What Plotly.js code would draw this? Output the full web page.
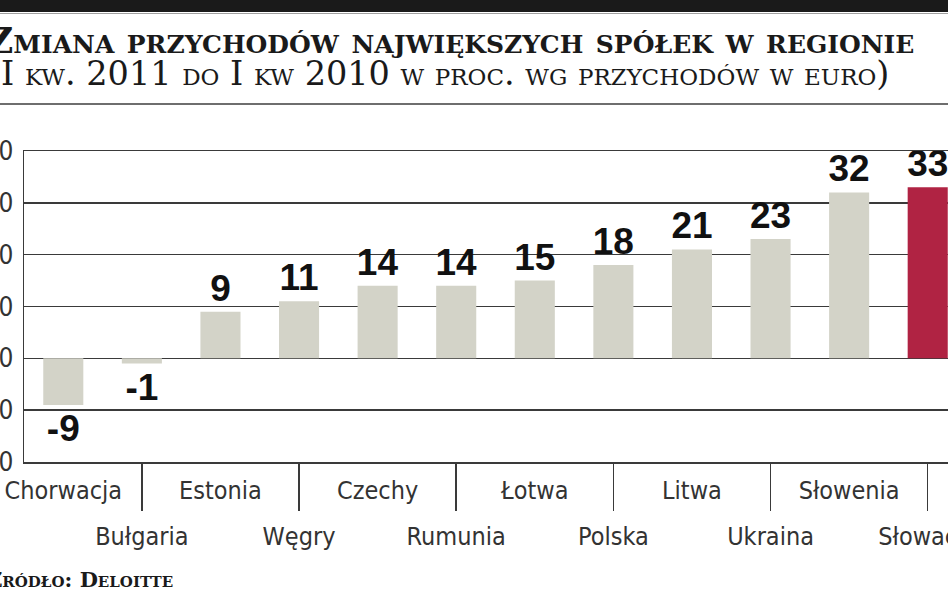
<!DOCTYPE html>
<html>
<head>
<meta charset="utf-8">
<script src="https://cdn.plot.ly/plotly-3.0.1.min.js"></script>
<style>
  html, body { margin: 0; padding: 0; width: 948px; height: 593px; overflow: hidden; background: #ffffff; }
  #chart { position: absolute; left: -40px; top: 0; width: 1020px; height: 593px; }
</style>
</head>
<body>
<div id="chart"></div>
<script>
// ---- data ----
const countries = ["Chorwacja", "Bułgaria", "Estonia", "Węgry", "Czechy", "Rumunia",
                   "Łotwa", "Polska", "Litwa", "Ukraina", "Słowenia", "Słowacja"];
const changePct = [-9, -1, 9, 11, 14, 14, 15, 18, 21, 23, 32, 33];
const highlight = "Słowacja";
const yTicks = [-20, -10, 0, 10, 20, 30, 40];
const titleLine1 = "Zmiana przychodów największych spółek w regionie";
const titleLine2 = "(I kw. 2011 do I kw 2010 w proc. wg przychodów w euro)";
const sourceText = "Źródło: Deloitte";

// ---- geometry helpers (page pixels -> paper coords) ----
const OFFSET = 40, W = 1020, H = 593;
const M = { l: 64, r: 13, t: 151, b: 131 };
const PW = W - M.l - M.r, PH = H - M.t - M.b;
const px = x => (x + OFFSET - M.l) / PW;
const py = y => (H - M.b - y) / PH;

const idx = countries.map((_, i) => i);
const evenIdx = idx.filter(i => i % 2 === 0);
const oddIdx = idx.filter(i => i % 2 === 1);

const GRAY = "#d3d3c8", RED = "#b02343", LINE = "#3a3a3a";
const SANS = "DejaVu Sans Condensed, Liberation Sans, sans-serif";
const BOLD = "Liberation Sans, Arial, sans-serif";
const SERIF = "DejaVu Serif, serif";

const trace = {
  type: "bar",
  x: idx,
  y: changePct,
  marker: { color: countries.map(c => c === highlight ? RED : GRAY) },
  text: changePct.map(String),
  textposition: "outside",
  constraintext: "none",
  cliponaxis: false,
  textfont: { family: BOLD, size: 37, weight: "bold", color: "#111111" },
  hoverinfo: "skip",
  xaxis: "x", yaxis: "y"
};
// invisible helper trace to activate the second x axis (odd labels + separators)
const helper = {
  type: "scatter", x: oddIdx, y: oddIdx.map(() => null),
  xaxis: "x2", yaxis: "y", hoverinfo: "skip", showlegend: false
};

const layout = {
  width: W, height: H,
  margin: M,
  paper_bgcolor: "#ffffff", plot_bgcolor: "#ffffff",
  showlegend: false,
  bargap: 0.49,
  xaxis: {
    range: [-0.5, countries.length - 0.5],
    tickmode: "array", tickvals: evenIdx, ticktext: evenIdx.map(i => countries[i]),
    ticks: "", ticklabelstandoff: 5,
    tickfont: { family: SANS, size: 25, color: "#333333" },
    showgrid: false, zeroline: false,
    showline: true, linecolor: LINE, linewidth: 1.5, mirror: true
  },
  xaxis2: {
    overlaying: "x", anchor: "y", side: "bottom",
    range: [-0.5, countries.length - 0.5],
    tickmode: "array", tickvals: oddIdx, ticktext: oddIdx.map(i => countries[i]),
    ticks: "outside", ticklen: 48, tickwidth: 1.5, tickcolor: LINE,
    ticklabelstandoff: 4,
    tickfont: { family: SANS, size: 25, color: "#333333" },
    showgrid: false, zeroline: false, showline: false
  },
  yaxis: {
    range: [yTicks[0], yTicks[yTicks.length - 1]],
    tickmode: "array", tickvals: yTicks, ticktext: yTicks.map(String),
    ticks: "outside", ticklen: 4, tickcolor: "rgba(0,0,0,0)",
    tickfont: { family: SANS, size: 26, color: "#333333" },
    showgrid: true, gridcolor: LINE, gridwidth: 1.5,
    zeroline: false, showline: true, linecolor: LINE, linewidth: 1.5
  },
  shapes: [
    { type: "rect", xref: "paper", yref: "paper", x0: px(-40), x1: px(990), y0: py(12), y1: py(-2),
      fillcolor: "#1a1a1a", line: { width: 0 } },
    { type: "line", xref: "paper", yref: "paper", x0: px(-40), x1: px(990), y0: py(13.5), y1: py(13.5),
      line: { color: "#a0a0a0", width: 1 } },
    { type: "line", xref: "paper", yref: "paper", x0: px(-40), x1: px(990), y0: py(104), y1: py(104),
      line: { color: "#6e6e6e", width: 2 } }
  ],
  annotations: [
    { xref: "paper", yref: "paper", x: px(-15), y: py(40), xanchor: "left", yanchor: "middle",
      text: titleLine1, showarrow: false,
      font: { family: SERIF, size: 36, weight: "bold", variant: "small-caps", color: "#1a1a1a" } },
    { xref: "paper", yref: "paper", x: px(-14), y: py(73), xanchor: "left", yanchor: "middle",
      text: titleLine2, showarrow: false,
      font: { family: SERIF, size: 33.5, variant: "small-caps", color: "#1a1a1a" } },
    { xref: "paper", yref: "paper", x: px(-15), y: py(579), xanchor: "left", yanchor: "middle",
      text: sourceText, showarrow: false,
      font: { family: SERIF, size: 21, weight: "bold", variant: "small-caps", color: "#1a1a1a" } }
  ]
};

Plotly.newPlot("chart", [trace, helper], layout, { displayModeBar: false, staticPlot: true });
</script>
</body>
</html>
